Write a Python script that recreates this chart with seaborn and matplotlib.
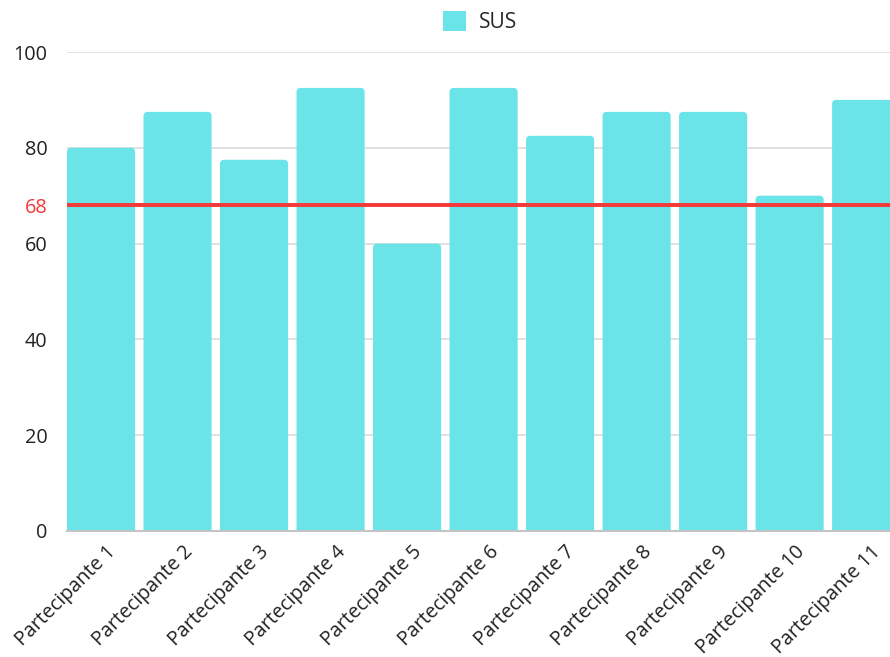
import matplotlib
matplotlib.use("Agg")
import matplotlib.pyplot as plt
import matplotlib.transforms as mtransforms
import seaborn as sns
import pandas as pd
from matplotlib.patches import FancyBboxPatch, Patch

participants = [f"Partecipante {i}" for i in range(1, 12)]
sus_scores = [80, 87.5, 77.5, 92.5, 60, 92.5, 82.5, 87.5, 87.5, 70, 90]
threshold = 68
y_ticks = [0, 20, 40, 60, 68, 80, 100]

bar_color = "#6AE4E8"
line_color = "#F53838"

sns.set_theme(style="white")
plt.rcParams["font.family"] = ["Open Sans", "DejaVu Sans"]

df = pd.DataFrame({"participant": participants, "SUS": sus_scores})

fig = plt.figure(figsize=(8.9, 6.57), dpi=100)
# plot area runs slightly past the right edge of the canvas
ax_w_px = 837
ax = fig.add_axes([67 / 890, 126 / 657, ax_w_px / 890, 479 / 657])

bar_w = 0.89
sns.barplot(data=df, x="participant", y="SUS", color=bar_color,
            width=bar_w, saturation=1, ax=ax, zorder=2)

# swap the square bars for ones with rounded top corners
px_per_x = 76.47
px_per_y = 4.79
for p in list(ax.patches):
    x0, w, h = p.get_x(), p.get_width(), p.get_height()
    p.set_visible(False)
    rb = FancyBboxPatch((x0, -5), w, h + 5,
                        boxstyle="round,pad=0,rounding_size=0.055",
                        mutation_aspect=px_per_x / px_per_y,
                        facecolor=bar_color, edgecolor="none", zorder=2,
                        clip_on=True)
    ax.add_patch(rb)

ax.set_xlim(-bar_w / 2, len(participants) - 1 + bar_w / 2 + 0.05)
ax.set_ylim(0, 100)

ax.axhline(threshold, color=line_color, lw=2.8, zorder=4)

ax.set_yticks(y_ticks)
ax.set_yticklabels([str(t) for t in y_ticks])
for lbl, t in zip(ax.get_yticklabels(), y_ticks):
    lbl.set_color(line_color if t == threshold else "#222222")
ax.tick_params(axis="y", length=0, pad=14, labelsize=14.3)
ax.tick_params(axis="x", length=0, pad=8, labelsize=14.2, labelcolor="#222222")
shift = mtransforms.ScaledTranslation(5 / 100, 0, fig.dpi_scale_trans)
for lbl in ax.get_xticklabels():
    lbl.set_rotation(45)
    lbl.set_ha("right")
    lbl.set_rotation_mode("anchor")
    lbl.set_transform(lbl.get_transform() + shift)

ax.yaxis.grid(True, color="#d9d9d9", lw=1.1, zorder=0)
ax.set_axisbelow(True)
for s in ["left", "right", "top"]:
    ax.spines[s].set_visible(False)
ax.spines["bottom"].set_color("#c4c4c4")
ax.spines["bottom"].set_linewidth(1.5)
ax.spines["bottom"].set_zorder(5)

ax.set_xlabel("")
ax.set_ylabel("")

handle = Patch(facecolor=bar_color, edgecolor="none", label="SUS")
ax.legend(handles=[handle], loc="lower center",
          bbox_to_anchor=((480 - 67) / ax_w_px, 1.0),
          frameon=False, fontsize=15, handlelength=1.1, handleheight=1.1,
          handletextpad=0.6, borderaxespad=0.5)

fig.savefig("out.png", dpi=100)
